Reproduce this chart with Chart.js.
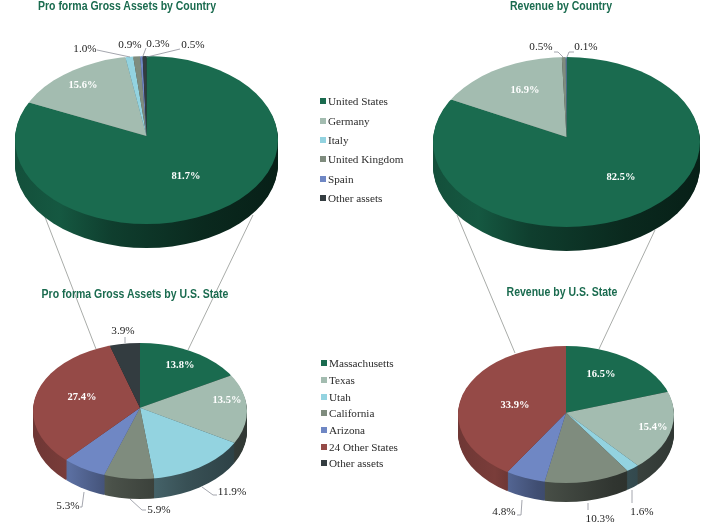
<!DOCTYPE html>
<html>
<head>
<meta charset="utf-8">
<script src="https://cdn.jsdelivr.net/npm/chart.js@4"></script>
<style>
  html, body { margin: 0; padding: 0; background: #fff; }
  #page { position: relative; width: 710px; height: 523px; overflow: hidden; }
  #page canvas { position: absolute; left: 0; top: 0; }
  .title { position: absolute; transform: translate(-50%, -50%) scaleX(0.82); white-space: nowrap;
    font: bold 12.8px "Liberation Sans", sans-serif; color: #1a6b4f; }
  .legend { position: absolute; margin: 0; padding: 0; list-style: none;
    font: 11.2px "Liberation Serif", serif; color: #2b2b2b; }
  .legend li { display: flex; align-items: center; white-space: nowrap; }
  .legend i { display: block; width: 6px; height: 6px; margin-right: 2px; }
</style>
</head>
<body>
<div id="page"></div>
<script>
const countryLabels = ['United States', 'Germany', 'Italy', 'United Kingdom', 'Spain', 'Other assets'];
const stateLabels = ['Massachusetts', 'Texas', 'Utah', 'California', 'Arizona', '24 Other States', 'Other assets'];

const assetsByCountry = [81.7, 15.6, 1.0, 0.9, 0.3, 0.5];
const revenueByCountry = [82.5, 16.9, 0, 0.5, 0.1, 0];
const assetsByState = [13.8, 13.5, 11.9, 5.9, 5.3, 27.4, 3.9];
const revenueByState = [16.5, 15.4, 1.6, 10.3, 4.8, 33.9, 0];

const COUNTRY_COLORS = ['#1a6b4f', '#a3bcb0', '#93d3e0', '#7f8c7e', '#6f87c4', '#333c40'];
const STATE_COLORS = ['#1a6b4f', '#a3bcb0', '#93d3e0', '#7f8c7e', '#6f87c4', '#954a47', '#333c40'];

const PAGE_W = 710;
const PAGE_H = 523;
const OVERSCAN = 1.1;

function shade(hex, f) {
  const n = parseInt(hex.slice(1), 16);
  const c = [n >> 16, (n >> 8) & 255, n & 255].map(v => Math.round(v * f));
  return `rgb(${c[0]},${c[1]},${c[2]})`;
}

// Tilts the pie into an ellipse and extrudes the side wall below it.
// The slices radiate from apexY, a little above the ellipse centre, and get clipped to the ellipse.
const tiltedPie = {
  id: 'tiltedPie',
  beforeDatasetsDraw(chart, args, opts) {
    const ctx = chart.ctx;
    const arcs = chart.getDatasetMeta(0).data;
    const values = chart.data.datasets[0].data;
    const { cx, cy, rx, ry, depth, apexY } = opts;
    const k = ry / rx;

    (opts.connectors || []).forEach(l => {
      ctx.beginPath();
      ctx.moveTo(l[0], l[1]);
      ctx.lineTo(l[2], l[3]);
      ctx.strokeStyle = '#a9aca9';
      ctx.lineWidth = 1;
      ctx.stroke();
    });

    const squash = dy => {
      ctx.beginPath();
      ctx.ellipse(cx, cy + dy, rx, ry, 0, 0, Math.PI * 2);
      ctx.clip();
      ctx.translate(cx, apexY + dy);
      ctx.scale(OVERSCAN, k * OVERSCAN);
      ctx.translate(-cx, -cy);
    };

    const sides = arcs.map((arc, i) => {
      const base = chart.data.datasets[0].backgroundColor[i];
      const wall = ctx.createLinearGradient(cx - rx, 0, cx + rx, 0);
      wall.addColorStop(0, shade(base, 0.72));
      wall.addColorStop(0.2, shade(base, 0.82));
      wall.addColorStop(0.38, shade(base, 0.58));
      wall.addColorStop(0.7, shade(base, 0.38));
      wall.addColorStop(1, shade(base, 0.28));
      return Object.create(arc, {
        options: { value: { ...arc.options, backgroundColor: wall, borderWidth: 0 } },
      });
    });

    for (let d = depth; d > 0; d--) {
      ctx.save();
      squash(d);
      sides.forEach((side, i) => {
        if (values[i]) side.draw(ctx);
      });
      ctx.restore();
    }

    ctx.save();
    squash(0);
  },
  afterDatasetsDraw(chart, args, opts) {
    const ctx = chart.ctx;
    ctx.restore();

    (opts.leaders || []).forEach(path => {
      ctx.beginPath();
      path.forEach((p, i) => (i ? ctx.lineTo(p[0], p[1]) : ctx.moveTo(p[0], p[1])));
      ctx.strokeStyle = '#8d8f99';
      ctx.lineWidth = 0.8;
      ctx.stroke();
    });

    const values = chart.data.datasets[0].data;
    ctx.textAlign = 'center';
    ctx.textBaseline = 'middle';
    values.forEach((v, i) => {
      const spot = opts.spots[i];
      if (!spot) return;
      ctx.font = spot[2] ? 'bold 10.5px "Liberation Serif", serif' : '11.2px "Liberation Serif", serif';
      ctx.fillStyle = spot[2] ? '#ffffff' : '#1c1c1c';
      ctx.fillText(v.toFixed(1) + '%', spot[0], spot[1]);
    });
  },
};

function addPie(labels, values, colors, geo) {
  const canvas = document.createElement('canvas');
  canvas.width = PAGE_W;
  canvas.height = PAGE_H;
  document.getElementById('page').appendChild(canvas);
  new Chart(canvas.getContext('2d'), {
    type: 'pie',
    data: { labels, datasets: [{ data: values, backgroundColor: colors, borderWidth: 0 }] },
    plugins: [tiltedPie],
    options: {
      responsive: false,
      animation: false,
      events: [],
      // padding places the chart area so the pie sits on its ellipse
      layout: {
        padding: {
          left: geo.cx - geo.rx,
          right: PAGE_W - geo.cx - geo.rx,
          top: geo.cy - geo.rx,
          bottom: PAGE_H - geo.cy - geo.rx,
        },
      },
      plugins: {
        legend: { display: false },
        title: { display: false },
        tooltip: { enabled: false },
        tiltedPie: geo,
      },
    },
  });
}

function addTitle(text, x, y) {
  const el = document.createElement('div');
  el.className = 'title';
  el.textContent = text;
  el.style.left = x + 'px';
  el.style.top = y + 'px';
  document.getElementById('page').appendChild(el);
}

function addLegend(labels, colors, left, top, rowH) {
  const ul = document.createElement('ul');
  ul.className = 'legend';
  ul.style.left = left + 'px';
  ul.style.top = top + 'px';
  labels.forEach((name, i) => {
    const li = document.createElement('li');
    li.style.height = rowH + 'px';
    const box = document.createElement('i');
    box.style.background = colors[i];
    li.appendChild(box);
    li.appendChild(document.createTextNode(name));
    ul.appendChild(li);
  });
  document.getElementById('page').appendChild(ul);
}

addPie(stateLabels, assetsByState, STATE_COLORS, {
  cx: 140, cy: 411, rx: 107, ry: 68, depth: 20, apexY: 407.7,
  spots: [[180, 365, 1], [227, 400, 1], [232, 492], [159, 510], [68, 506], [82, 397, 1], [123, 331]],
  leaders: [
    [[202, 487], [213, 495], [217, 495]],
    [[130, 499], [142, 510], [146, 510]],
    [[84, 492], [82, 507], [80, 507]],
    [[125, 343], [125, 337]],
  ],
});
addPie(stateLabels, revenueByState, STATE_COLORS, {
  cx: 566, cy: 414.5, rx: 108, ry: 68.5, depth: 19, apexY: 412.7,
  spots: [[601, 374, 1], [653, 427, 1], [642, 512], [600, 519], [504, 512], [515, 405, 1], null],
  leaders: [
    [[632, 490], [632, 503]],
    [[588, 503], [588, 510]],
    [[522, 500], [521, 515], [517, 515]],
  ],
});
addPie(countryLabels, assetsByCountry, COUNTRY_COLORS, {
  cx: 146.5, cy: 140, rx: 131.5, ry: 84, depth: 24, apexY: 136,
  connectors: [[45, 217, 96, 349], [253, 215, 188, 350]],
  spots: [[186, 176, 1], [83, 85, 1], [85, 49.5], [130, 45], [158, 44], [193, 45]],
  leaders: [
    [[97, 50], [130, 57]],
    [[143, 56], [146, 48]],
    [[147, 57], [180, 49]],
  ],
});
addPie(countryLabels, revenueByCountry, COUNTRY_COLORS, {
  cx: 566.5, cy: 142, rx: 133.5, ry: 85, depth: 24, apexY: 137,
  connectors: [[457, 215, 515, 353], [655, 230, 599, 349]],
  spots: [[621, 177, 1], [525, 90, 1], null, [541, 47], [586, 47], null],
  leaders: [
    [[554, 52], [558, 52], [563, 57]],
    [[574, 52], [569, 52], [567, 57]],
  ],
});

addTitle('Pro forma Gross Assets by Country', 126.5, 5);
addTitle('Revenue by Country', 561, 5);
addTitle('Pro forma Gross Assets by U.S. State', 134.5, 293);
addTitle('Revenue by U.S. State', 562, 291);

addLegend(countryLabels, COUNTRY_COLORS, 320, 91.5, 19.4);
addLegend(stateLabels, STATE_COLORS, 321, 355, 16.7);
</script>
</body>
</html>
